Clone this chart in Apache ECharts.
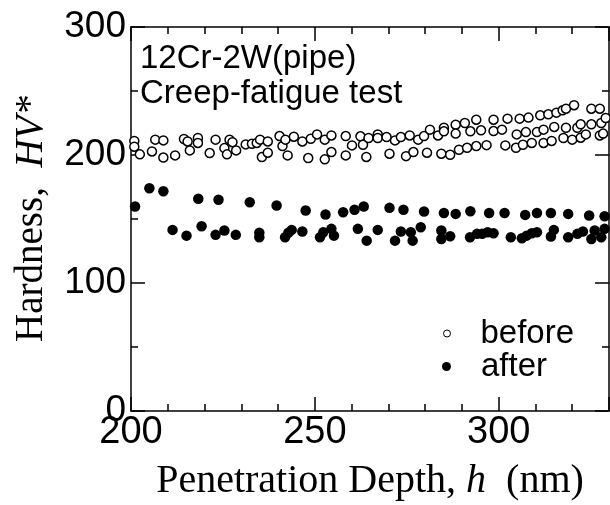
<!DOCTYPE html>
<html><head><meta charset="utf-8">
<script src="https://cdn.jsdelivr.net/npm/echarts@6/dist/echarts.min.js"></script>
<style>html,body{margin:0;padding:0;background:#fff}#c{width:610px;height:505px}</style>
</head><body><div id="c"></div>
<script>
// Hardness before creep-fatigue test
const beforeDepth = [200.9,200.9,202.4,205.7,206.6,208.8,208.8,212,214.4,215.4,216,218.2,218.2,221.4,223,225.4,226.1,226.8,227.6,228.6,
  231.2,232.9,234.2,235.1,235.6,237.2,237.2,240.4,241.2,242,242.6,244.3,246.6,248.2,248.9,250.6,252.7,252.7,254.5,254.5,
  258.4,258.4,260.1,262.4,263.1,264.6,264,267.1,267.1,269.5,270.3,271.8,273.4,274.8,275.8,276.8,278.1,279.7,280.5,281.3,
  283.5,284.4,285.1,285.1,286.8,288.3,288.3,289.2,290.8,291.4,292.3,293.9,293.9,295.2,296.7,298.6,298.6,300.9,301.8,302.4,
  304.7,304.9,305.7,306.6,307.4,308.1,309,310.4,311.3,312.2,312.2,313.5,314.4,315.1,315.7,317.4,317.6,318.3,318.3,320,
  320.5,321.4,322.3,322.3,323.7,325.2,325.2,327.5,327.5,327.9,328.4,329.1];
const beforeHV = [211,206.5,200.5,202.8,212,211.4,198,199.7,212.5,210.6,203.6,213.3,209.4,201.5,212,205.4,200.5,212,210,203.6,
  208.3,208.8,209.4,212,198.4,210.6,201.8,214.8,207,212,199.7,214.3,210.6,197.6,212.7,216.1,212,196.6,215.3,202.3,
  214.8,199.7,207.5,214.6,208,213.3,198.5,216.1,213.3,214,201,211.4,214,199.1,215.3,202.3,212,214.8,201.8,219.8,
  215.3,201,221.3,218.5,200.2,223.7,216.7,204.1,225,205.6,218.5,227.6,207,219.3,207.7,227.6,218.7,219.8,207.5,228.4,
  205.6,216.1,228.4,208,217.9,229.2,209.4,217.9,231,219.8,209.4,231.8,211,221.9,233.1,234.9,213.3,236.2,221.3,212,
  238.9,221.3,213.5,224,216.1,224,236.2,236.2,215.3,225,216.7,228.9];
// Hardness after creep-fatigue test
const afterDepth = [201.1,205,208.8,211.3,215.1,218.3,219.2,223,223.8,225.4,228.5,232.3,234.9,234.9,239.6,241.9,242.8,243.7,246.6,247.5,
  251.4,252.3,252.9,254.5,255.2,257.7,260.8,261.7,263.3,264.1,267.1,270.3,271.8,273.4,274.1,276.1,276.6,278.8,279.7,284.4,
  284.4,285.1,286.8,288.3,292.2,292.3,294.1,295.5,297,297.4,298.6,301.6,303.3,306.3,307.2,307.6,309,310.4,310.4,314.2,
  314.2,315,318.9,318.9,321.4,322.9,324.6,325.2,326.1,327.9,328.8,328.8];
const afterHV = [159.7,174,171.7,141.5,137,165.8,144.3,137.6,165,141,137.6,163.1,139.2,135.7,160.5,135.7,139.2,141.5,140.2,156.6,
  135.7,139.6,153.5,142.3,137,155.3,157.2,142.3,159.7,133.1,141.5,158.7,133.1,140.2,157.2,139.6,133.1,143.5,155.8,141,
  134.4,154.7,136.5,154,135.7,156,138.4,138.4,139.6,154.7,138.8,154.7,135.7,134.9,153.2,137,138.8,139.6,154.7,154.7,
  136.3,141.5,154,135.7,138.4,140.2,152.7,134.4,141,135.7,152.1,142.3];
const xTickLabels = [200, 250, 300];
const yTickLabels = [0, 100, 200, 300];

const zip = (a, b) => a.map((v, i) => [v, b[i]]);
const sans = 'Liberation Sans, Arial, sans-serif';
const serif = 'Liberation Serif, Times New Roman, serif';
const black = '#000';
const lineS = {color: black, width: 1.5};

function xAx(pos, interval, len, main) {
  return {
    type: 'value', position: pos, min: 200, max: 330, interval: interval,
    axisLine: {show: main, lineStyle: lineS},
    axisTick: {show: true, inside: true, length: len, lineStyle: lineS},
    axisLabel: {show: false},
    splitLine: {show: false}
  };
}
const xMain = xAx('bottom', 50, 14, true);
xMain.axisLabel = {show: true, fontSize: 38, color: black, fontFamily: sans, margin: 3,
  formatter: v => (xTickLabels.indexOf(v) >= 0 ? String(v) : '')};
xMain.name = '{a|Penetration Depth, }{b|h}{a|  (nm)}';
xMain.nameLocation = 'middle';
xMain.nameGap = 50;
xMain.nameTextStyle = {rich: {
  a: {fontSize: 40, fontFamily: serif, color: black},
  b: {fontSize: 40, fontFamily: serif, fontStyle: 'italic', color: black}}};

function yAx(pos) {
  return {
    type: 'value', position: pos, min: 0, max: 300, interval: 100,
    axisLine: {show: true, lineStyle: lineS},
    axisTick: {show: true, inside: true, length: 14, lineStyle: lineS},
    minorTick: {show: true, splitNumber: 2, length: 7, lineStyle: lineS},
    axisLabel: {show: false},
    splitLine: {show: false}, minorSplitLine: {show: false}
  };
}
const yMain = yAx('left');
yMain.axisLabel = {show: true, fontSize: 37, color: black, fontFamily: sans, margin: 5,
  formatter: v => (yTickLabels.indexOf(v) >= 0 ? String(v) : '')};
yMain.name = '{a|Hardness,  }{b|HV*}';
yMain.nameLocation = 'middle';
yMain.nameRotate = 90;
yMain.nameGap = 80;
yMain.nameTextStyle = {rich: {
  a: {fontSize: 39, fontFamily: serif, color: black},
  b: {fontSize: 39, fontFamily: serif, fontStyle: 'italic', color: black}}};

const chart = echarts.init(document.getElementById('c'), null, {renderer: 'canvas'});
chart.setOption({
  animation: false,
  backgroundColor: '#fff',
  grid: {left: 131, right: 1, top: 27, bottom: 94, containLabel: false, outerBoundsMode: 'none'},
  title: {text: '12Cr-2W(pipe)\nCreep-fatigue test', left: 140, top: 41, padding: 0,
    textStyle: {fontSize: 33, fontWeight: 'normal', color: black, fontFamily: sans, lineHeight: 35}},
  legend: [
    {data: ['before'], left: 443, top: 317, padding: 0, itemWidth: 7, itemHeight: 7, icon: 'circle',
      selectedMode: false, itemStyle: {borderWidth: 1},
      textStyle: {fontSize: 33, color: black, fontFamily: sans, padding: [0, 0, 0, 25]}},
    {data: ['after'], left: 442, top: 350, padding: 0, itemWidth: 9, itemHeight: 9, icon: 'circle',
      selectedMode: false,
      textStyle: {fontSize: 33, color: black, fontFamily: sans, padding: [0, 0, 0, 25]}}
  ],
  xAxis: [xMain, xAx('bottom', 10, 7, false), xAx('top', 50, 14, true), xAx('top', 10, 7, false)],
  yAxis: [yMain, yAx('right')],
  series: [
    {type: 'scatter', name: 'before', xAxisIndex: 0, yAxisIndex: 0, data: zip(beforeDepth, beforeHV),
      symbol: 'circle', symbolSize: 9, itemStyle: {color: '#fff', borderColor: black, borderWidth: 1.5, opacity: 1},
      emphasis: {disabled: true}},
    {type: 'scatter', name: 'after', xAxisIndex: 0, yAxisIndex: 0, data: zip(afterDepth, afterHV),
      symbol: 'circle', symbolSize: 10.5, itemStyle: {color: black, opacity: 1},
      emphasis: {disabled: true}}
  ]
});
</script>
</body></html>
